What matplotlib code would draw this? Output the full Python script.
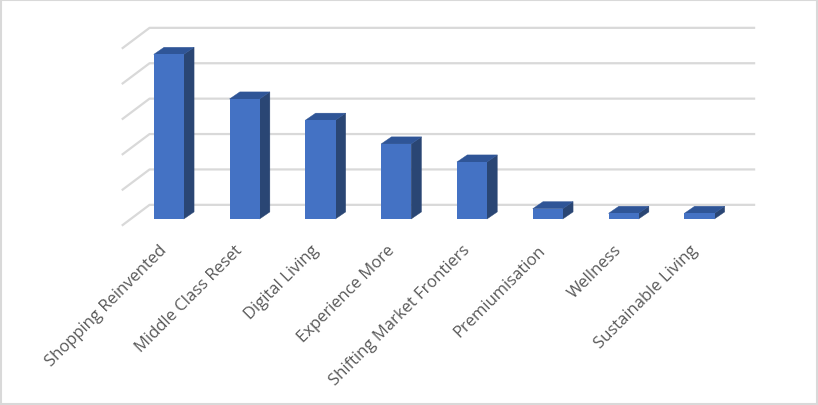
import numpy as np
import matplotlib
matplotlib.use('Agg')
import matplotlib.pyplot as plt
from matplotlib.patches import Polygon, Rectangle
from matplotlib.transforms import ScaledTranslation

categories = ['Shopping Reinvented', 'Middle Class Reset', 'Digital Living', 'Experience More',
              'Shifting Market Frontiers', 'Premiumisation', 'Wellness', 'Sustainable Living']
values = [4.65, 3.39, 2.79, 2.12, 1.61, 0.29, 0.16, 0.16]
grid_levels = [0, 1, 2, 3, 4, 5]

fig = plt.figure(figsize=(8.18, 4.06), dpi=100)
fig.patch.set_facecolor('white')
fig.patches.append(Rectangle((0.001, 0.002), 0.998, 0.996, transform=fig.transFigure, fill=False,
                             edgecolor='#d9d9d9', linewidth=1.5, figure=fig))

# one x unit is one category, one y unit is one gridline step
ax = fig.add_axes([131.0 / 818, (406 - 220) / 406, 606.4 / 818, 177 / 406])
ax.set_xlim(0, 8)
ax.set_ylim(0, 5)
for s in ax.spines.values():
    s.set_visible(False)
ax.patch.set_alpha(0)

# gridlines on the back wall, with the slanted piece on the left
for g in grid_levels:
    ax.plot([-0.11, 0.245, 8.22], [g - 0.17, g + 0.4, g + 0.4], color='#d9d9d9', lw=1.6,
            clip_on=False, zorder=1, solid_joinstyle='round')

x = np.arange(len(values)) + 0.5
w = 0.4
dx = 0.136
dy = 0.2
ax.bar(x, values, width=w, color='#4472c4', zorder=3)
for xi, v in zip(x, values):
    r = xi + w / 2 - 0.004
    l = xi - w / 2
    ax.add_patch(Polygon([(r, 0), (r + dx, dy), (r + dx, v + dy), (r, v)],
                         facecolor='#2a4674', edgecolor='#2a4674', lw=0.3, zorder=2, clip_on=False))
    ax.add_patch(Polygon([(l, v), (l + dx, v + dy), (r + dx, v + dy), (r, v)],
                         facecolor='#2f5597', edgecolor='#2f5597', lw=0.3, zorder=2, clip_on=False))

ax.set_yticks([])
ax.set_xticks(x)
ax.set_xticklabels(categories, rotation=45, ha='right', rotation_mode='anchor',
                   fontsize=12, color='#595959', family='Open Sans')
ax.tick_params(axis='x', length=0, pad=14)
# move the labels left and down a little, they hang off the bar's left side
shift = ScaledTranslation(-10 / 100, -3 / 100, fig.dpi_scale_trans)
for t in ax.get_xticklabels():
    t.set_transform(t.get_transform() + shift)

fig.savefig('out.png', dpi=100)
